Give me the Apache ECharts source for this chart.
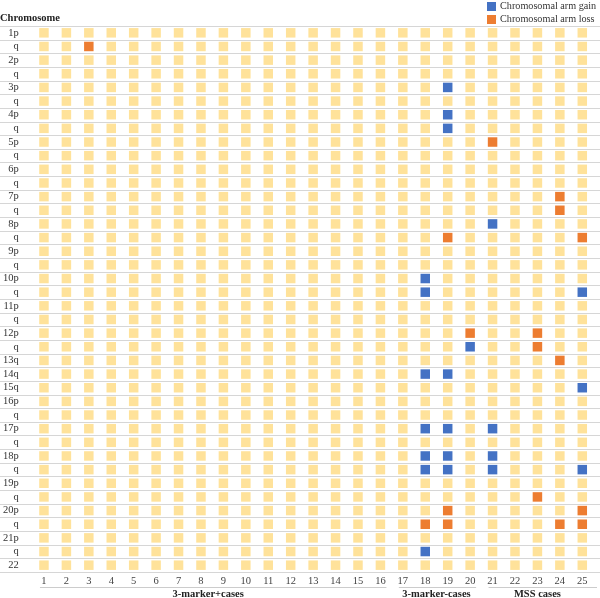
<!DOCTYPE html>
<html><head><meta charset="utf-8">
<script src="https://cdn.jsdelivr.net/npm/echarts@6/dist/echarts.min.js"></script>
<style>html,body{margin:0;padding:0;background:#fff}#c{width:600px;height:598px}</style>
</head><body><div id="c"></div>
<script>
const rowLabels = ['1p','q','2p','q','3p','q','4p','q','5p','q','6p','q','7p','q','8p','q','9p','q','10p','q','11p','q','12p','q','13q','14q','15q','16p','q','17p','q','18p','q','19p','q','20p','q','21p','q','22'];
const cases = ['1','2','3','4','5','6','7','8','9','10','11','12','13','14','15','16','17','18','19','20','21','22','23','24','25'];
// [row index, case number]
const gainCells = [[4,19],[6,19],[7,19],[14,21],[18,18],[19,18],[19,25],[23,20],[25,18],[25,19],[26,25],[29,18],[29,19],[29,21],[31,18],[31,19],[31,21],[32,18],[32,19],[32,21],[32,25],[38,18]];
const lossCells = [[1,3],[8,21],[12,24],[13,24],[15,19],[15,25],[22,20],[22,23],[23,23],[24,24],[34,23],[35,19],[35,25],[36,18],[36,19],[36,24],[36,25]];
const groups = [
  {name:'3-marker+cases', from:1, to:16},
  {name:'3-marker-cases', from:17, to:20},
  {name:'MSS cases', from:21, to:25}
];

const FONT = 'Liberation Serif';
const FS = 10.5;
const key = (r,c) => r + '_' + c;
const marked = new Set(gainCells.concat(lossCells).map(d => key(d[0], d[1])));
const normalData = [];
rowLabels.forEach((_, r) => cases.forEach((_, ci) => {
  if (!marked.has(key(r, ci+1))) normalData.push([ci, r]);
}));
const gainData = gainCells.map(d => [d[1]-1, d[0]]);
const lossData = lossCells.map(d => [d[1]-1, d[0]]);

const chart = echarts.init(document.getElementById('c'));
const SZ = 9.5;
chart.setOption({
  animation:false,
  textStyle:{fontFamily:FONT},
  title:{text:'Chromosome', left:0, top:13, padding:0, textStyle:{fontFamily:FONT, fontSize:FS, fontWeight:'bold', color:'#222'}},
  legend:{orient:'vertical', left:487, top:1.5, padding:0, itemWidth:9, itemHeight:9, itemGap:3,
    icon:'rect', data:['Chromosomal arm gain','Chromosomal arm loss'],
    textStyle:{fontFamily:FONT, fontSize:10.2, color:'#333', padding:[0,0,0,-1]}},
  grid:{left:32, right:6.5, top:26, bottom:26, containLabel:false},
  xAxis:{type:'category', data:cases, axisLine:{show:false}, axisTick:{show:false},
    splitLine:{show:false},
    axisLabel:{fontFamily:FONT, fontSize:FS, color:'#444', margin:4, interval:0}},
  yAxis:{type:'category', data:rowLabels, inverse:true, axisLine:{show:false}, axisTick:{show:false},
    splitLine:{show:false},
    axisLabel:{fontFamily:FONT, fontSize:FS, color:'#333', margin:14, interval:0}},
  series:[
    {name:'normal', type:'scatter', symbol:'rect', symbolSize:SZ, data:normalData, itemStyle:{color:'#FFE29A', opacity:1}, z:2},
    {name:'Chromosomal arm gain', type:'scatter', symbol:'rect', symbolSize:SZ, data:gainData, itemStyle:{color:'#4472C4', opacity:1}, z:3},
    {name:'Chromosomal arm loss', type:'scatter', symbol:'rect', symbolSize:SZ, data:lossData, itemStyle:{color:'#ED7D31', opacity:1}, z:3}
  ]
});

// row separator lines across full width, and group lines/labels
const p0 = chart.convertToPixel({gridIndex:0}, [0, 0]);
const p1 = chart.convertToPixel({gridIndex:0}, [1, 1]);
const band = p1[1] - p0[1];
const graphics = [];
for (let i = 0; i <= rowLabels.length; i++) {
  const y = Math.round(p0[1] - band/2 + i*band) + 0.5;
  graphics.push({type:'line', shape:{x1:0, y1:y, x2:600, y2:y}, style:{stroke:'#d6d6d6', lineWidth:1}, silent:true, z:0});
}
groups.forEach(g => {
  const a = chart.convertToPixel({gridIndex:0}, [g.from-1, 0])[0];
  const b = chart.convertToPixel({gridIndex:0}, [g.to-1, 0])[0];
  const x1 = a - 4, x2 = (g.to === cases.length) ? 597 : b + 6;
  graphics.push({type:'line', shape:{x1:x1, y1:587.5, x2:x2, y2:587.5}, style:{stroke:'#cccccc', lineWidth:1}, silent:true});
  graphics.push({type:'text', x:(a+b)/2 - (g.from===1?4:0), y:594, style:{text:g.name, fontFamily:FONT, fontSize:FS, fontWeight:'bold', fill:'#222', textAlign:'center', textVerticalAlign:'middle'}, silent:true});
});
chart.setOption({graphic:graphics});
</script></body></html>
